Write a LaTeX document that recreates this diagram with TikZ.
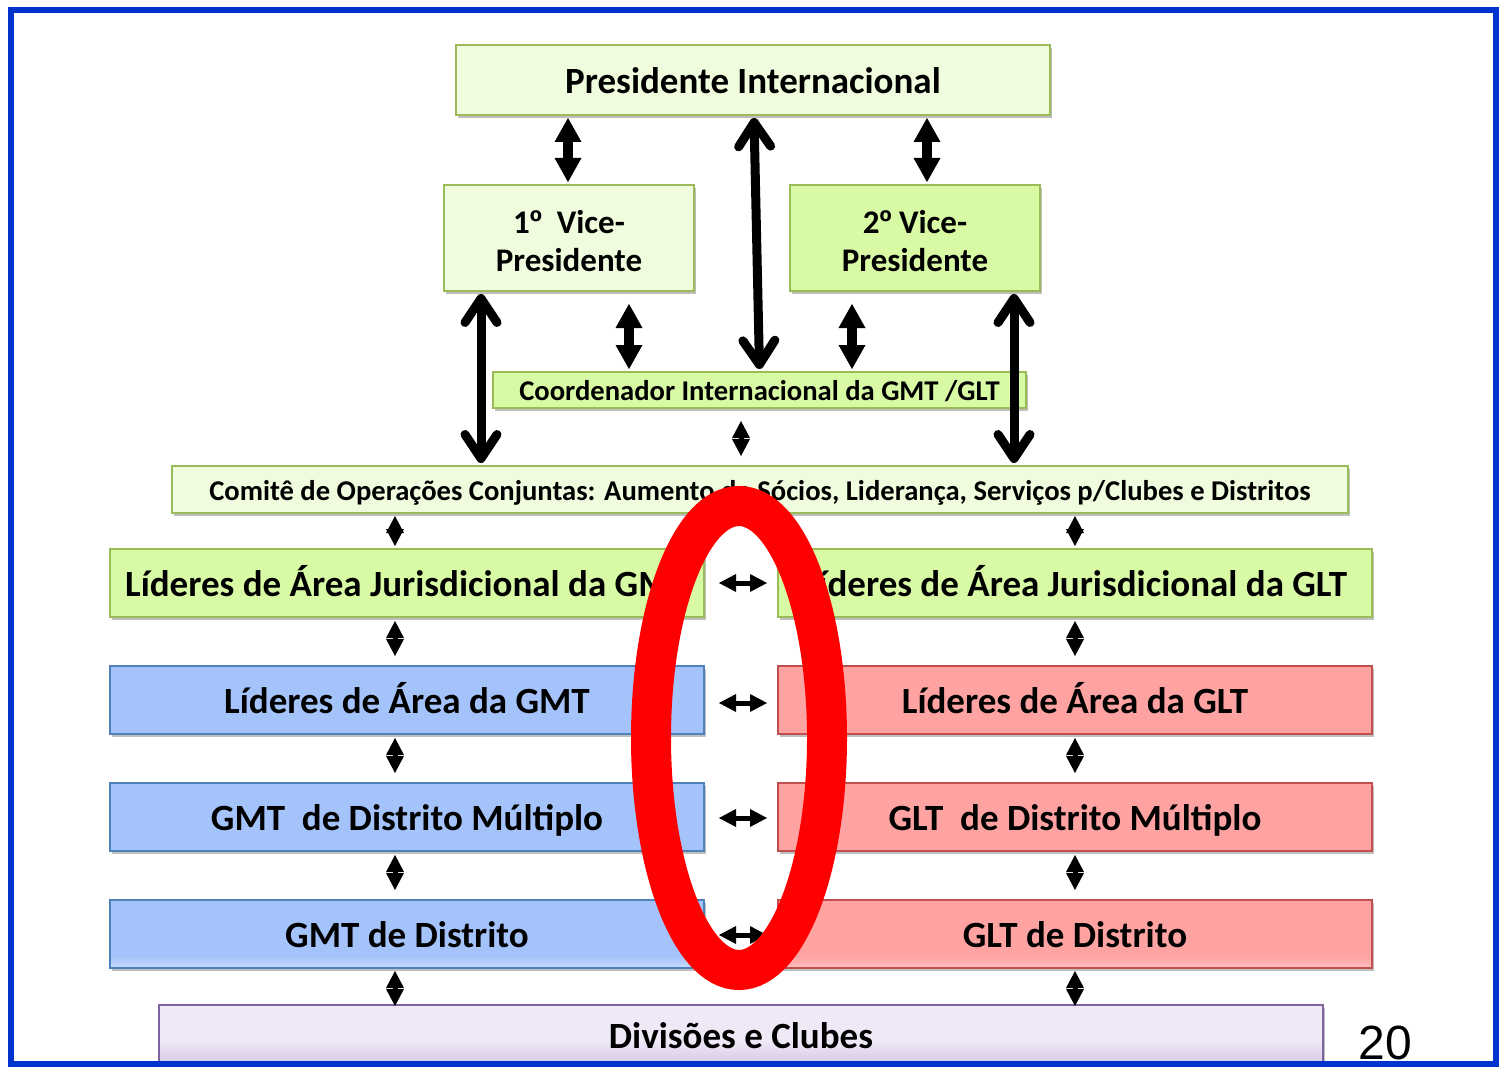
\documentclass[tikz,border=0pt]{standalone}
\usepackage{fontspec}
\setmainfont{Carlito}
\newfontfamily\arialf{Liberation Sans}
\usetikzlibrary{arrows.meta,shadows}
\definecolor{gPale}{HTML}{EFFCDE}
\definecolor{gBright}{HTML}{D8FAA4}
\definecolor{gBorder}{HTML}{9BBB59}
\definecolor{bFill}{HTML}{A4C3FA}
\definecolor{bLight}{HTML}{C8DBFC}
\definecolor{bBorder}{HTML}{4F81BD}
\definecolor{rFill}{HTML}{FFA2A2}
\definecolor{rLight}{HTML}{FFBFBF}
\definecolor{rBorder}{HTML}{C0504D}
\definecolor{pFill}{HTML}{EFE8F7}
\definecolor{pDark}{HTML}{D5C6E6}
\definecolor{pBorder}{HTML}{8064A2}
\definecolor{frameBlue}{HTML}{0033CC}
\definecolor{ringRed}{HTML}{FF0000}
\pgfdeclareverticalshading{blueshade}{100bp}{color(0bp)=(bLight); color(25bp)=(bLight); color(34bp)=(bFill); color(100bp)=(bFill)}
\pgfdeclareverticalshading{redshade}{100bp}{color(0bp)=(rLight); color(25bp)=(rLight); color(34bp)=(rFill); color(100bp)=(rFill)}
\pgfdeclareverticalshading{purpleshade}{100bp}{color(0bp)=(pDark); color(25bp)=(pDark); color(45bp)=(pFill); color(100bp)=(pFill)}
\newcommand{\ordm}{{\arialf\bfseries º}}
\begin{document}
\begin{tikzpicture}[x=1pt,y=-1pt,
 box/.style={rectangle, line width=2pt, inner sep=0pt, align=center,
   font=\bfseries\fontsize{37}{38}\selectfont,
   drop shadow={shadow xshift=2pt, shadow yshift=-3pt, opacity=0.25, fill=black}},
 oneline/.style={text height=27pt, text depth=0pt},
 midline/.style={font=\bfseries\fontsize{28.6}{30}\selectfont, text height=21pt, text depth=0pt},
 vpfont/.style={font=\bfseries\fontsize{33}{38}\selectfont},
 pale/.style={box, fill=gPale, draw=gBorder},
 bright/.style={box, fill=gBright, draw=gBorder},
 bluebox/.style={box, oneline, fill=bFill, draw=bBorder},
 redbox/.style={box, oneline, fill=rFill, draw=rBorder},
 blueshaded/.style={box, oneline, draw=bBorder, shade, shading=blueshade},
 redshaded/.style={box, oneline, draw=rBorder, shade, shading=redshade},
 purplebox/.style={box, oneline, draw=pBorder, shade, shading=purpleshade},
 fat/.style={line width=10pt, {Triangle[width=27pt,length=24pt,line width=0pt]}-{Triangle[width=27pt,length=24pt,line width=0pt]}},
 small/.style={line width=5pt, {Triangle[width=18pt,length=17pt,line width=0pt]}-{Triangle[width=18pt,length=17pt,line width=0pt]}},
 barb/.style={line width=9pt, line cap=round, {Straight Barb[round,length=24pt,width=32pt]}-{Straight Barb[round,length=24pt,width=32pt]}},
]
\useasboundingbox (0,0) rectangle (1499,1067);
\fill[white] (0,0) rectangle (1499,1067);

% boxes
\node[pale, oneline, minimum width=594pt, minimum height=70pt] (pres) at (753,80) {Presidente Internacional};
\node[pale, vpfont, minimum width=250pt, minimum height=106pt] (vp1) at (569,238) {\rule{0pt}{30pt}1\ordm~~Vice-\\Presidente};
\node[bright, vpfont, minimum width=250pt, minimum height=106pt] (vp2) at (915,238) {\rule{0pt}{30pt}2\ordm{} Vice-\\Presidente};
\node[bright, midline, minimum width=533pt, minimum height=36pt] (coord) at (759.5,390) {Coordenador Internacional da GMT /GLT};
\node[pale, midline, minimum width=1176pt, minimum height=47pt] (comite) at (760,489.5) {Comitê de Operações Conjuntas: Aumento de Sócios, Liderança, Serviços p/Clubes e Distritos};
\node[bright, oneline, minimum width=594pt, minimum height=68pt] (ljL) at (407,583) {Líderes de Área Jurisdicional da GMT};
\node[bright, oneline, minimum width=594pt, minimum height=68pt] (ljR) at (1075,583) {Líderes de Área Jurisdicional da GLT};
\node[bluebox, minimum width=594pt, minimum height=68pt] (laL) at (407,700) {Líderes de Área da GMT};
\node[redbox, minimum width=594pt, minimum height=68pt] (laR) at (1075,700) {Líderes de Área da GLT};
\node[bluebox, minimum width=594pt, minimum height=68pt] (dmL) at (407,817) {GMT~~de Distrito Múltiplo};
\node[redbox, minimum width=594pt, minimum height=68pt] (dmR) at (1075,817) {GLT~~de Distrito Múltiplo};
\node[blueshaded, minimum width=594pt, minimum height=68pt] (dL) at (407,934) {GMT de Distrito};
\node[redshaded, minimum width=594pt, minimum height=68pt] (dR) at (1075,934) {GLT de Distrito};
\node[purplebox, minimum width=1164pt, minimum height=60pt] (div) at (741,1035) {Divisões e Clubes};

% connectors
\draw[fat] ([xshift=-185pt,yshift=-2pt]pres.south) -- ([xshift=-1pt,yshift=2pt]vp1.north);
\draw[fat] ([xshift=174pt,yshift=-2pt]pres.south) -- ([xshift=12pt,yshift=2pt]vp2.north);
\draw[barb] ([xshift=1pt,yshift=-2pt]pres.south) -- ([yshift=2pt]coord.north);
\draw[barb] ([xshift=-88pt,yshift=-2pt]vp1.south) -- ([xshift=-279pt,yshift=2pt]comite.north);
\draw[barb] ([xshift=99pt,yshift=-2pt]vp2.south) -- ([xshift=254pt,yshift=2pt]comite.north);
\draw[fat] ([xshift=60pt,yshift=-12pt]vp1.south) -- ([xshift=-130.5pt,yshift=2pt]coord.north);
\draw[fat] ([xshift=-63pt,yshift=-12pt]vp2.south) -- ([xshift=92.5pt,yshift=2pt]coord.north);
\draw[small] ([xshift=-18.5pt,yshift=-12pt]coord.south) -- ([xshift=-19pt,yshift=9pt]comite.north);
\draw[small] ([xshift=-365pt,yshift=-2pt]comite.south) -- ([xshift=-12pt,yshift=2pt]ljL.north);
\draw[small] ([xshift=315pt,yshift=-2pt]comite.south) -- ([yshift=2pt]ljR.north);
\foreach \a/\b in {ljL/laL, laL/dmL, dmL/dL}
  \draw[small] ([xshift=-12pt,yshift=-3pt]\a.south) -- ([xshift=-12pt,yshift=9pt]\b.north);
\foreach \a/\b in {ljR/laR, laR/dmR, dmR/dR}
  \draw[small] ([yshift=-3pt]\a.south) -- ([yshift=9pt]\b.north);
\draw[small] ([xshift=-12pt,yshift=-2pt]dL.south) -- ([xshift=-346pt,yshift=-2pt]div.north);
\draw[small] ([yshift=-2pt]dR.south) -- ([xshift=334pt,yshift=-2pt]div.north);
\foreach \a/\b/\s in {ljL/ljR/0, laL/laR/3, dmL/dmR/1, dL/dR/1}
  \draw[small] ([xshift=14pt,yshift=-\s pt]\a.east) -- ([xshift=-10pt,yshift=-\s pt]\b.west);

% red ring
\draw[ringRed, line width=40pt] (739,738) ellipse [x radius=88pt, y radius=232pt];

% page number and frame
\node[anchor=base, font=\arialf\fontsize{48}{48}\selectfont, inner sep=0pt] (num) at (1385,1059) {20};
\draw[frameBlue, line width=6pt] (11,10) rectangle (1496,1064);
\end{tikzpicture}
\end{document}
